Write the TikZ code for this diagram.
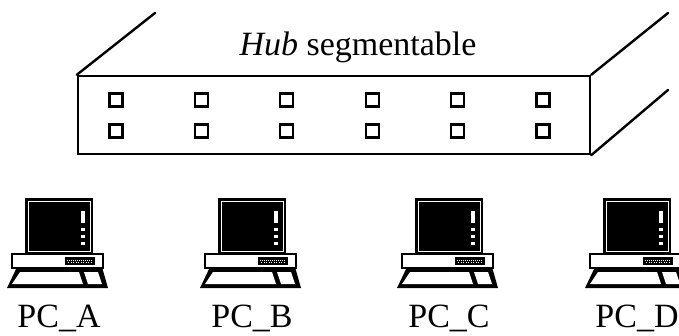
\documentclass[tikz,border=0pt]{standalone}
\usepackage{fontspec}
\setmainfont{Liberation Serif}
\begin{document}
\begin{tikzpicture}[x=1pt,y=-1pt,
  hubline/.style={line width=2.4pt, line cap=round},
  port/.style={draw, line width=2.2pt, minimum size=13pt, inner sep=0pt},
  bigtext/.style={font=\fontsize{34}{40}\selectfont, inner sep=0pt, anchor=base},
  frame/.style={line width=2.4pt},
]
\useasboundingbox (0,0) rectangle (679,335);

% hub: front face and receding edges
\node[draw, hubline, minimum width=512pt, minimum height=78pt, inner sep=0pt] (hub) at (334,115) {};
\coordinate (tl) at (155,13);
\coordinate (tr) at (668,13);
\coordinate (br) at (668,90);
\draw[hubline] (hub.north west) -- (tl);
\draw[hubline] (hub.north east) -- (tr);
\draw[hubline] (hub.south east) -- (br);
\node[bigtext] (title) at (358,55) {\textit{Hub} segmentable};

% two rows of ports
\foreach \i in {0,...,5} {
  \node[port] (pa\i) at ({116+85.4*\i},100) {};
  \node[port] (pb\i) at ({116+85.4*\i},131) {};
}

% one workstation, centred on x = #1
\newcommand\workstation[2]{%
  \begin{scope}[shift={(#1,0)}]
    % monitor
    \fill (-32,198) rectangle (36,254);
    \draw[white, line width=0.9pt] (-29,201) rectangle (33,251);
    \fill[white] (24,211) rectangle (28,223);
    \fill[white] (24,228) rectangle (28,231);
    \fill[white] (24,235) rectangle (28,238);
    \fill[white] (24,242) rectangle (28,245);
    % system unit
    \draw[frame, fill=white] (-45,254) rectangle (46,268);
    \fill (8,257) rectangle (38,265);
    \draw[white, line width=0.8pt, dash pattern=on 1pt off 1pt] (10,260) -- (36,260);
    \draw[white, line width=0.8pt, dash pattern=on 1pt off 1.5pt] (11,262.5) -- (36,262.5);
    % keyboard
    \fill (-40,267) -- (45,267) -- (51,288) -- (-50,288) -- cycle;
    \fill[white] (-37,272) -- (22,272) -- (26,284) -- (-45,284) -- cycle;
    \fill[white] (27,272) -- (41,272) -- (45,284) -- (31,284) -- cycle;
    \node[bigtext] (pc#2) at (2,327) {PC\_#2};
  \end{scope}}

\workstation{57}{A}
\workstation{250}{B}
\workstation{447}{C}
\workstation{635}{D}
\end{tikzpicture}
\end{document}
